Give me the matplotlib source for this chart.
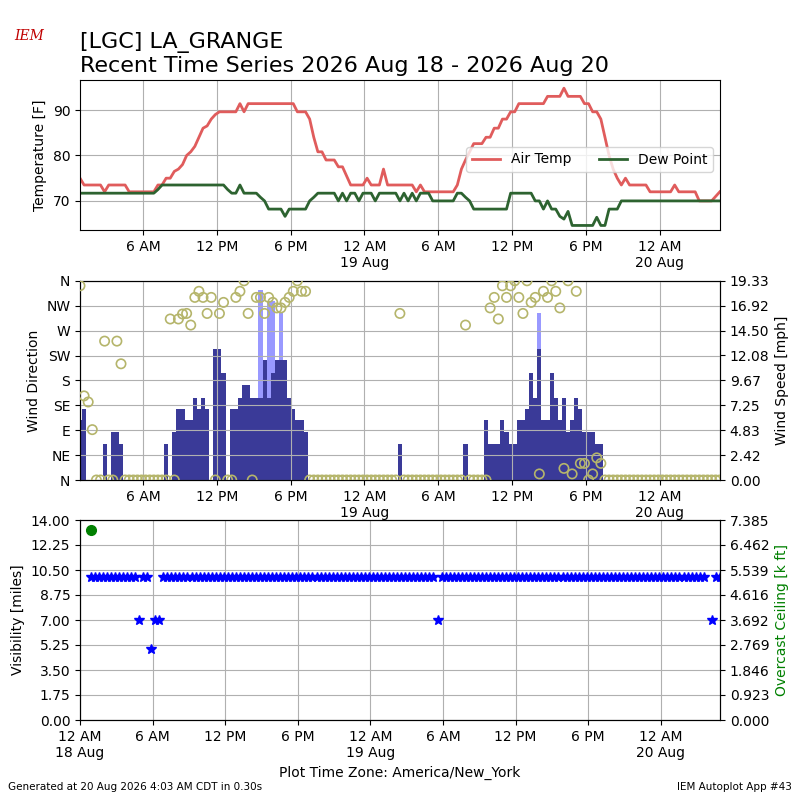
import datetime
import numpy as np
import matplotlib
matplotlib.use('Agg')
import matplotlib.pyplot as plt
import matplotlib.dates as mdates
from matplotlib.ticker import FuncFormatter

# observations every 20 minutes starting 18 Aug 00:53
start = datetime.datetime(2026, 8, 18, 0, 53)
step = datetime.timedelta(minutes=20)

temp = ([75] + [73.5]*5 + [72] + [73.5]*5 + [72]*7 + [73.5]*2 + [75]*2 +
        [76.5, 77, 78, 80, 80.8, 82, 84, 86, 86.5, 88, 89] + [89.6]*5 + [91.4, 89.6] +
        [91.4]*12 + [89.6]*3 + [88, 84, 80.8, 80.8, 79, 79, 79, 77.5, 77.5, 75.5] +
        [73.5]*4 + [75] + [73.5]*3 + [77] + [73.5]*7 + [72, 73.5] + [72]*8 +
        [73.5, 77, 79, 80.8, 82.6, 82.6, 82.6, 84, 84, 86, 86, 88, 88, 89.6, 89.6, 91.4] +
        [91.4]*6 + [93]*4 + [94.8] + [93]*4 +
        [91.4, 91.4, 89.6, 89.6, 88, 84, 80, 77, 75, 73.5, 75] + [73.5]*5 + [72]*6 + [73.5] +
        [72]*5 + [70]*4 + [71, 72])
dwpt = ([71.7]*19 + [72.5] + [73.5]*16 + [72.5, 71.7, 71.7, 73.5] + [71.7]*4 +
        [70.8, 70] + [68.2]*4 + [66.6] + [68.2]*5 + [70, 70.8] + [71.7]*5 +
        [70, 71.7, 70, 71.7, 71.7, 70, 71.7, 71.7, 71.7, 70] + [71.7]*5 +
        [70, 71.7, 70, 71.7, 70] + [71.7]*3 + [70]*6 + [71.7]*2 + [70.8, 70] + [68.2]*9 +
        [71.7]*6 + [70, 70, 68.2, 70, 68.2, 68.2, 66.6, 66, 67.7] + [64.6]*6 +
        [66.4, 64.6, 64.6] + [68.2]*3 + [70]*25)

wind_step = [0, 1, 6, 8, 9, 10, 21, 23, 24, 25, 26, 27, 28, 29, 30, 31, 33, 34, 35, 37, 38,
             39, 40, 41, 42, 43, 44, 45, 46, 47, 48, 49, 50, 51, 52, 53, 54, 55, 78, 94,
             99, 100, 101, 102, 103, 104, 105, 106, 107, 108, 109, 110, 111, 112, 113, 114,
             115, 116, 117, 118, 119, 120, 121, 122, 123, 124, 125, 126, 127]
wind_speed = [5.8, 6.9, 3.5, 4.7, 4.7, 3.5, 3.5, 4.7, 6.9, 6.9, 5.8, 5.8, 8.0, 6.9, 8.0, 6.9,
              12.7, 12.7, 10.4, 6.9, 6.9, 8.0, 9.2, 9.2, 8.0, 8.0, 8.0, 11.6, 8.0, 10.4, 11.6,
              11.6, 11.6, 8.0, 6.9, 5.8, 5.8, 4.7, 3.5, 3.5,
              5.8, 3.5, 3.5, 3.5, 5.8, 4.7, 3.5, 3.5, 5.8, 5.8, 6.9, 10.4, 8.0, 12.7, 5.8, 5.8,
              10.4, 8.0, 5.8, 8.0, 4.7, 5.8, 8.0, 6.9, 4.7, 4.7, 4.7, 3.5, 3.5]
gust_step = [44, 46, 47, 49, 112]
gust_speed = [18.4, 17.4, 17.4, 16.2, 16.2]

dir_step = [0, 1, 2, 3, 6, 9, 10, 22, 24, 25, 26, 27, 28, 29, 30, 31, 32, 34, 35, 38, 39, 40,
            41, 43, 44, 45, 46, 47, 48, 49, 50, 51, 52, 53, 54, 55, 78, 94,
            100, 101, 102, 103, 104, 105, 106, 107, 108, 109, 110, 111, 112, 113, 114, 115,
            116, 117, 118, 119, 120, 121, 122, 123, 125, 126, 127]
dir_deg = [351, 152, 141, 91, 251, 251, 210, 291, 291, 300, 301, 280, 330, 341, 330, 301, 330,
           301, 321, 330, 341, 360, 301, 330, 330, 301, 330, 321, 311, 311, 321, 330, 341, 360,
           341, 341, 301, 280,
           311, 330, 291, 351, 330, 351, 360, 330, 301, 360, 321, 330, 11, 341, 330, 360,
           341, 311, 21, 360, 11, 341, 30, 30, 11, 40, 30]

speed_ticks = ['0.00', '2.42', '4.83', '7.25', '9.67', '12.08', '14.50', '16.92', '19.33']

vis_odd_step = [12, 15, 16, 17, 86, 154]
vis_odd_val = [7, 5, 7, 7, 7, 7]
vis_missing = [153]
ceil_step = [0]
ceil_kft = [7.0]

n = min(len(temp), len(dwpt))
times = [start + step * k for k in range(157)]

spd = np.zeros(157)
spd[wind_step] = wind_speed
gst = np.zeros(157)
gst[gust_step] = gust_speed
drct = np.zeros(157)
drct[dir_step] = dir_deg
vis = np.full(157, 10.0)
vis[vis_odd_step] = vis_odd_val
vis[vis_missing] = np.nan

def fmt(x, pos):
    d = mdates.num2date(x)
    h = d.hour % 12
    if h == 0:
        h = 12
    s = '%d %s' % (h, 'AM' if d.hour < 12 else 'PM')
    if d.hour == 0:
        s += '\n' + d.strftime('%d %b')
    return s

fig = plt.figure(figsize=(8, 8), dpi=100)
fig.text(0.1, 0.96, '[LGC] LA_GRANGE\nRecent Time Series 2026 Aug 18 - 2026 Aug 20',
         fontsize=16, va='top')
fig.text(0.037, 0.95, 'IEM', color='#c00000', fontsize=10, style='italic',
         family='DejaVu Serif', ha='center')
fig.text(0.01, 0.012, 'Generated at 20 Aug 2026 4:03 AM CDT in 0.30s', fontsize=7.5)
fig.text(0.99, 0.012, 'IEM Autoplot App #43', fontsize=7.5, ha='right')

end = datetime.datetime(2026, 8, 20, 4, 54)
loc = mdates.HourLocator(byhour=[0, 6, 12, 18])

ax1 = fig.add_axes([0.1, 0.7125, 0.8, 0.1875])
ax1.plot(times[:n], temp[:n], color='#e05c5c', lw=2, label='Air Temp')
ax1.plot(times[:n], dwpt[:n], color='#2d6330', lw=2, label='Dew Point')
ax1.set_ylim(63.6, 96.6)
ax1.set_yticks([70, 80, 90])
ax1.set_ylabel('Temperature [F]')
ax1.set_xlim(start, end)
ax1.legend(loc='upper right', bbox_to_anchor=(1.0, 0.6), ncol=2)
ax1.grid(True, color='#b0b0b0')

ax2 = fig.add_axes([0.1, 0.4, 0.8, 0.249])
ax2b = ax2.twinx()
ax2b.bar(times, gst, width=1/72, color='#9999ff', align='center')
ax2b.bar(times, spd, width=1/72, color='#3a3a98', align='center')
ax2b.set_ylim(0, 19.33)
ax2b.set_yticks(np.linspace(0, 19.33, 9))
ax2b.set_yticklabels(speed_ticks)
ax2b.set_ylabel('Wind Speed [mph]')
ax2.set_zorder(ax2b.get_zorder() + 1)
ax2.patch.set_visible(False)
ax2.scatter(times, drct, s=45, facecolors='none', edgecolors='#b5b56b', lw=1.2, zorder=5)
ax2.set_ylim(0, 360)
ax2.set_yticks(range(0, 361, 45))
ax2.set_yticklabels(['N', 'NE', 'E', 'SE', 'S', 'SW', 'W', 'NW', 'N'])
ax2.set_ylabel('Wind Direction')
ax2.set_xlim(start, end)
ax2.grid(True, color='#b0b0b0')

ax3 = fig.add_axes([0.1, 0.1, 0.8, 0.25])
ax3.plot(times, vis, '*', color='b', ms=7)
ax3.set_ylim(0, 14)
ax3.set_yticks(np.arange(0, 14.01, 1.75))
ax3.yaxis.set_major_formatter(FuncFormatter(lambda v, p: '%.2f' % v))
ax3.set_ylabel('Visibility [miles]')
ax3.set_xlim(datetime.datetime(2026, 8, 18, 0, 0), end)
ax3.grid(True, color='#b0b0b0')
ax3.set_xlabel('Plot Time Zone: America/New_York')
ax3b = ax3.twinx()
ax3b.plot([times[k] for k in ceil_step], ceil_kft, 'o', color='green', ms=7)
ax3b.set_ylim(0, 7.385)
ax3b.set_yticks(np.linspace(0, 7.385, 9))
ax3b.yaxis.set_major_formatter(FuncFormatter(lambda v, p: '%.3f' % v))
ax3b.set_ylabel('Overcast Ceiling [k ft]', color='green')

for ax in (ax1, ax2, ax3):
    ax.xaxis.set_major_locator(loc)
    ax.xaxis.set_major_formatter(FuncFormatter(fmt))

fig.savefig('out.png')
